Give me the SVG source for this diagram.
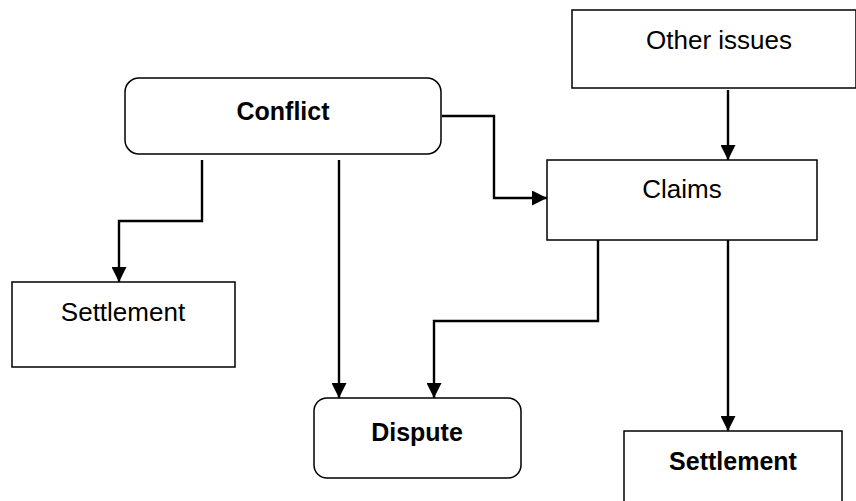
<svg xmlns="http://www.w3.org/2000/svg" width="856" height="501" viewBox="0 0 856 501">
  <style>
    .box { fill: #ffffff; stroke: #000000; stroke-width: 1.5; }
    .lbl { font-family: "Liberation Sans", Arial, sans-serif; font-size: 26px; fill: #000000; text-anchor: middle; }
    .bold { font-weight: bold; font-size: 25px; }
    .wire { fill: none; stroke: #000000; stroke-width: 2.4; marker-end: url(#arrow); }
  </style>
  <defs>
    <marker id="arrow" viewBox="0 0 15 15" refX="15" refY="7.5" markerWidth="15" markerHeight="15" markerUnits="userSpaceOnUse" orient="auto">
      <path d="M0,0 L15,7.5 L0,15 Z" fill="#000000"/>
    </marker>
  </defs>
  <rect width="856" height="501" fill="#ffffff"/>

  <g id="conflict">
    <rect class="box" x="125" y="78" width="316" height="76" rx="14"/>
    <text class="lbl bold" x="283" y="120">Conflict</text>
  </g>

  <g id="other-issues">
    <rect class="box" x="572" y="10" width="284" height="78"/>
    <text class="lbl" x="719" y="49">Other issues</text>
  </g>

  <g id="claims">
    <rect class="box" x="547" y="160" width="270" height="80"/>
    <text class="lbl" x="682" y="198">Claims</text>
  </g>

  <g id="settlement-left">
    <rect class="box" x="12" y="282" width="223" height="85"/>
    <text class="lbl" x="123" y="321">Settlement</text>
  </g>

  <g id="dispute">
    <rect class="box" x="314" y="398" width="207" height="80" rx="13"/>
    <text class="lbl bold" x="417" y="441">Dispute</text>
  </g>

  <g id="settlement-right">
    <rect class="box" x="624" y="431" width="218" height="80"/>
    <text class="lbl bold" x="733" y="470">Settlement</text>
  </g>

  <g id="connectors">
    <polyline class="wire" points="202,160 202,221 119,221 119,282"/>
    <polyline class="wire" points="339,160 339,398"/>
    <polyline class="wire" points="442,116 494,116 494,198 547,198"/>
    <polyline class="wire" points="728,90 728,160"/>
    <polyline class="wire" points="598,240 598,321 434,321 434,398"/>
    <polyline class="wire" points="728,240 728,431"/>
  </g>
</svg>
